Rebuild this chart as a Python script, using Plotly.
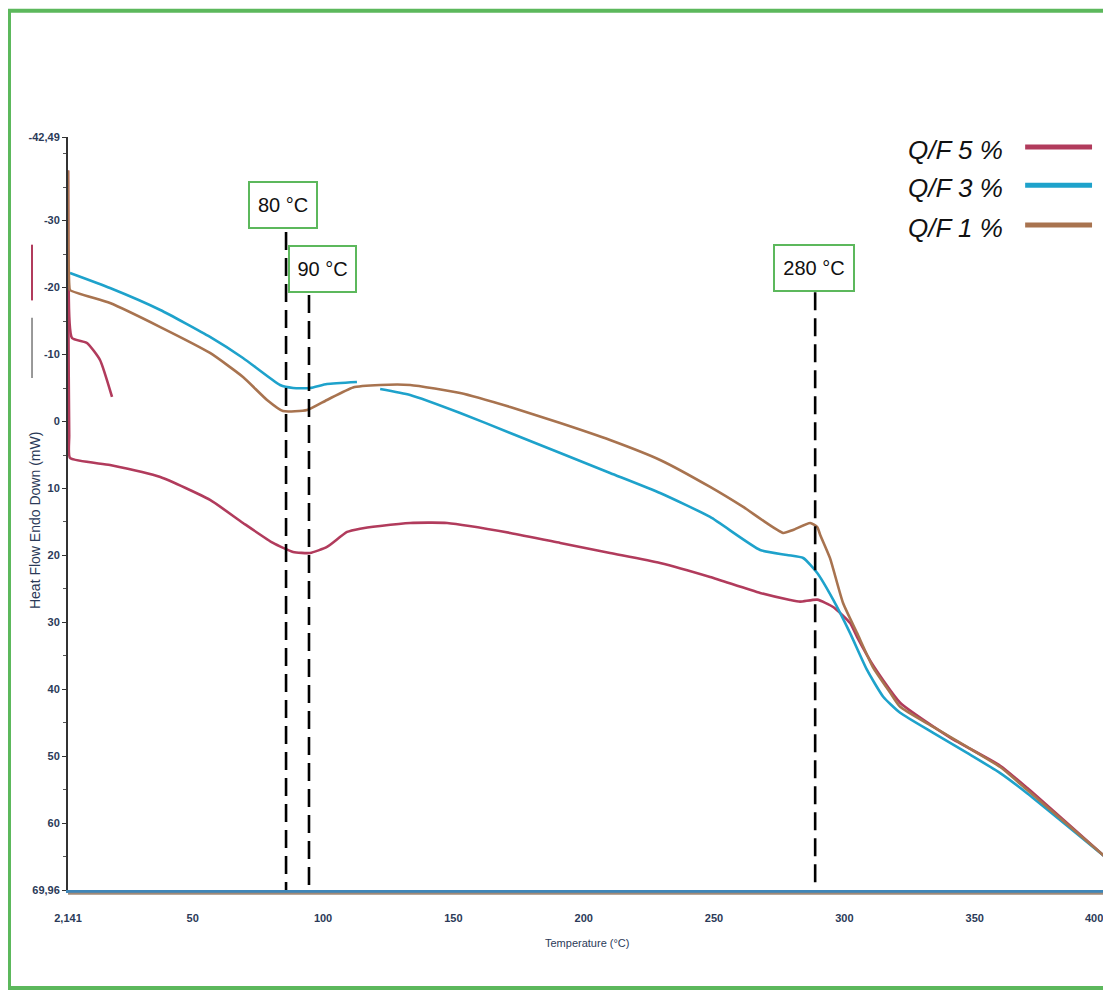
import plotly.graph_objects as go

# ---------------- data ----------------
qf5_x = [2.14, 2.3, 2.6, 2.91, 18.26, 37.56, 56.63, 69.29, 80.8, 88.5, 95.0, 101.5, 109.2, 114.2,
         121.9, 133.4, 147.6, 171.8, 191.0, 210.1, 229.3, 248.5, 267.7, 279.2, 283.0, 289.6,
         295.7, 302.2, 304.9, 311.0, 321.4, 340.6, 359.8, 370.1, 400]
qf5_y = [-37.5, -15, 2, 5.44, 6.49, 8.28, 11.71, 15.15, 18.13, 19.48, 19.63, 18.73, 16.49, 16.0,
         15.6, 15.15, 15.15, 16.64, 18.13, 19.63, 21.12, 23.21, 25.6, 26.65, 26.9, 26.6,
         27.7, 30.1, 32.2, 36.4, 42.0, 47.2, 51.4, 54.7, 65.0]

qf5b_x = [2.4, 3.68, 9.43, 14.42, 19.03]
qf5b_y = [-20.0, -12.48, -11.73, -9.19, -3.67]

qf3a_x = [2.91, 18.26, 37.56, 56.63, 69.29, 83.5, 88.5, 95.0, 101.5, 113.0]
qf3a_y = [-22.18, -19.94, -16.66, -12.63, -9.49, -5.46, -5.01, -5.01, -5.61, -5.91]
qf3b_x = [121.9, 133.4, 152.6, 171.8, 191.0, 210.1, 229.3, 248.5, 267.7, 278.0, 284.2,
          289.6, 295.7, 302.2, 308.7, 314.9, 321.4, 334.1, 347.1, 359.8, 370.1, 400]
qf3b_y = [-4.86, -3.97, -1.28, 1.71, 4.70, 7.68, 10.67, 14.25, 19.18, 19.93, 20.38,
          22.62, 26.6, 31.6, 37.1, 41.1, 43.5, 46.5, 49.5, 52.5, 55.5, 65.0]

qf1_x = [2.14, 2.3, 2.6, 2.91, 18.26, 37.56, 56.63, 69.29, 78.5, 84.6, 93.9, 101.5, 111.5,
         121.9, 133.4, 152.6, 171.8, 191.0, 210.1, 229.3, 248.5, 261.2, 276.5, 280.3, 286.9,
         289.6, 290.7, 294.5, 299.5, 304.9, 311.0, 317.6, 321.4, 334.1, 347.1, 359.8, 370.1, 400]
qf1_y = [-37.5, -26, -20.5, -19.64, -17.70, -14.11, -10.24, -6.65, -3.22, -1.57, -1.72, -3.22, -5.1,
         -5.46, -5.46, -4.26, -2.17, 0.22, 2.76, 5.74, 9.77, 12.76, 16.64, 16.19, 15.15,
         15.75, 16.9, 20.4, 27.1, 31.6, 36.7, 40.5, 42.6, 45.6, 48.6, 51.6, 55.0, 65.0]

x_tickvals = [2.141, 50, 100, 150, 200, 250, 300, 350, 400]
x_ticktext = ["2,141", "50", "100", "150", "200", "250", "300", "350", "400"]
y_tickvals = [-42.49, -30, -20, -10, 0, 10, 20, 30, 40, 50, 60, 69.96]
y_ticktext = ["-42,49", "-30", "-20", "-10", "0", "10", "20", "30", "40", "50", "60", "69,96"]

marker_x = [85.8, 94.6, 288.8]          # dashed reference lines
marker_top = [-28.3, -18.9, -19.3]
label_text = ["80 °C", "90 °C", "280 °C"]
label_x = [84.6, 99.8, 288.4]
label_y = [-32.3, -22.8, -23.0]
label_w = [66, 65, 78]

series_names = ["Q/F 5 %", "Q/F 3 %", "Q/F 1 %"]
RED, CYAN, BROWN = "#b13b5c", "#1ea2cb", "#a8734f"
series_colors = [RED, CYAN, BROWN]

FONT = "Liberation Sans, Arial, sans-serif"
TICKCOL = "#2b3a58"

fig = go.Figure()
line_kw = dict(width=2.6, shape="spline", smoothing=0.5)
fig.add_trace(go.Scatter(x=qf5_x, y=qf5_y, mode="lines", line=dict(color=RED, **line_kw), name=series_names[0]))
fig.add_trace(go.Scatter(x=qf5b_x, y=qf5b_y, mode="lines", line=dict(color=RED, **line_kw), name=series_names[0]))
fig.add_trace(go.Scatter(x=qf3a_x, y=qf3a_y, mode="lines", line=dict(color=CYAN, **line_kw), name=series_names[1]))
fig.add_trace(go.Scatter(x=qf3b_x, y=qf3b_y, mode="lines", line=dict(color=CYAN, **line_kw), name=series_names[1]))
fig.add_trace(go.Scatter(x=qf1_x, y=qf1_y, mode="lines", line=dict(color=BROWN, **line_kw), name=series_names[2]))

shapes = []
annotations = []
for mx, mt in zip(marker_x, marker_top):
    shapes.append(dict(type="line", xref="x", yref="y", x0=mx, x1=mx, y0=mt, y1=69.96,
                       line=dict(color="black", width=2.6, dash="18px,8px")))
for t, lx, ly, w in zip(label_text, label_x, label_y, label_w):
    annotations.append(dict(x=lx, y=ly, xref="x", yref="y", text=t, showarrow=False,
                            font=dict(family=FONT, size=20, color="#111"),
                            bordercolor="#5cb85c", borderwidth=2, bgcolor="white",
                            width=w, height=44, borderpad=0))

# legend (text then line sample, at the top right)
leg_y = [0.9827, 0.932, 0.879]
for name, col, yy in zip(series_names, series_colors, leg_y):
    annotations.append(dict(x=0.9036, y=yy, xref="paper", yref="paper", text=name,
                            showarrow=False, xanchor="right", yanchor="middle",
                            font=dict(family=FONT, size=26, color="#111", style="italic")))
    shapes.append(dict(type="line", xref="paper", yref="paper", x0=0.923, x1=0.9875,
                       y0=yy + 0.004, y1=yy + 0.004, line=dict(color=col, width=5)))

# last x tick label (at the very right edge)
annotations.append(dict(x=x_tickvals[-1], y=-0.037, xref="x", yref="paper", text=x_ticktext[-1],
                        showarrow=False, xanchor="right", yanchor="middle",
                        font=dict(family=FONT, size=11, color=TICKCOL, weight="bold")))

# y axis title and its small line marks
annotations.append(dict(x=-0.0318, y=0.49, xref="paper", yref="paper",
                        text="Heat Flow Endo Down (mW)", textangle=-90, showarrow=False,
                        xanchor="center", yanchor="middle",
                        font=dict(family=FONT, size=14, color=TICKCOL)))
shapes.append(dict(type="line", xref="paper", yref="paper", x0=-0.0347, x1=-0.0347,
                   y0=0.783, y1=0.857, line=dict(color=RED, width=2)))
shapes.append(dict(type="line", xref="paper", yref="paper", x0=-0.0347, x1=-0.0347,
                   y0=0.680, y1=0.760, line=dict(color="#777777", width=1.5)))
# x axis title
annotations.append(dict(x=0.5, y=-0.0704, xref="paper", yref="paper",
                        text="Temperature (°C)", showarrow=False, xanchor="center", yanchor="middle",
                        font=dict(family=FONT, size=11, color=TICKCOL)))
# brown baseline just beneath the axis
shapes.append(dict(type="line", xref="paper", yref="paper", x0=0, x1=1, y0=-0.005, y1=-0.005,
                   line=dict(color="#a08a78", width=2)))
# outer green frame
shapes.append(dict(type="rect", xref="paper", yref="paper", x0=-0.0569, x1=1.005,
                   y0=-0.130, y1=1.1675, line=dict(color="#5cb85c", width=4)))

# the page body adds an 8px margin, so the figure is 8px smaller and margins shifted
fig.update_layout(
    width=1103, height=983,
    margin=dict(l=60, r=6, t=129, b=101),
    paper_bgcolor="white", plot_bgcolor="white",
    shapes=shapes, annotations=annotations,
    showlegend=False,
    xaxis=dict(range=[2.141, 400], tickvals=x_tickvals[:-1], ticktext=x_ticktext[:-1],
               showgrid=False, zeroline=False, showline=True, linecolor="#3f86b8", linewidth=3,
               ticks="", ticklabelstandoff=16,
               tickfont=dict(family=FONT, size=11, color=TICKCOL, weight="bold")),
    yaxis=dict(range=[69.96, -42.49], tickvals=y_tickvals, ticktext=y_ticktext,
               showgrid=False, zeroline=False, showline=True, linecolor="#333333", linewidth=2,
               ticks="outside", ticklen=4, tickcolor="#333333",
               minor=dict(tickmode="linear", tick0=0, dtick=5, ticks="outside", ticklen=3,
                          tickcolor="#555555"),
               tickfont=dict(family=FONT, size=11, color=TICKCOL, weight="bold")),
)

fig.write_html("out.html")
